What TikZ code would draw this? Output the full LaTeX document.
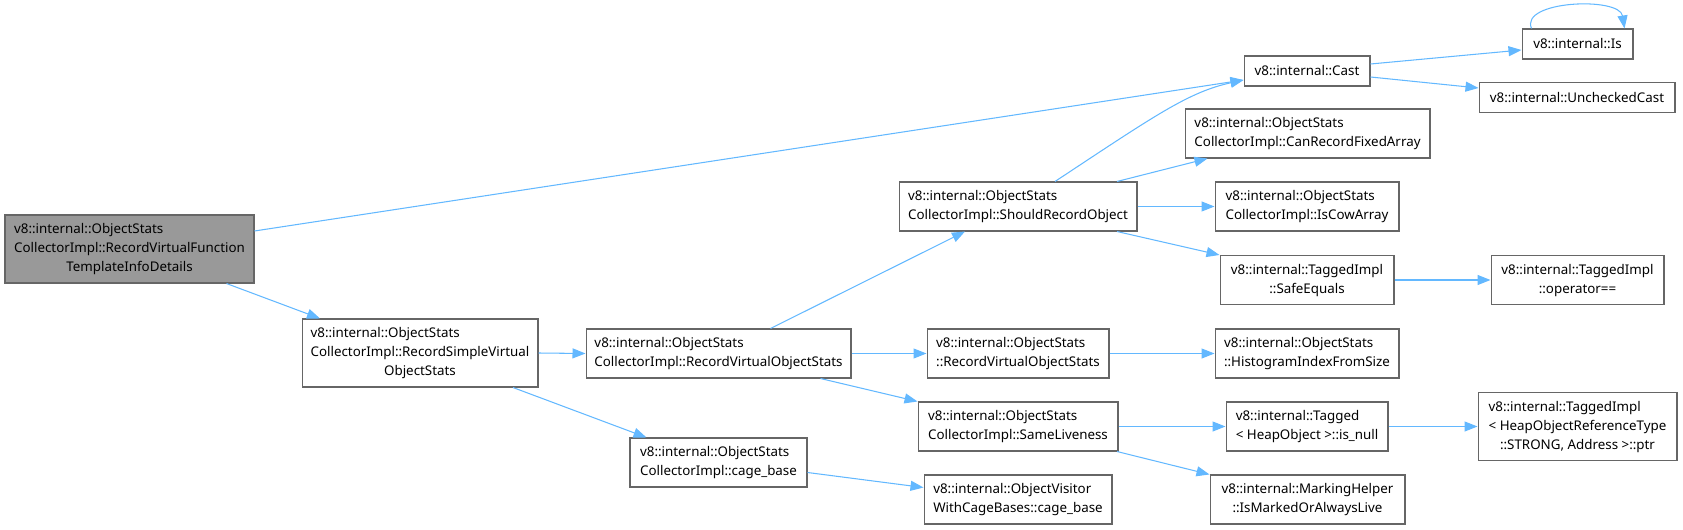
\documentclass[tikz,border=0pt]{standalone}
\usepackage{fontspec}
\setmainfont{Noto Sans}
\usepackage{xcolor}
\usepackage{tikz}
\usetikzlibrary{arrows.meta,calc}

\definecolor{edgeblue}{HTML}{63B8FF}
\definecolor{boxgray}{HTML}{666666}
\definecolor{mainfill}{HTML}{999999}

% all lines left, last line centred
\newcommand{\fnlabel}[2]{\begin{tabular}{@{}l@{}}#1\\\multicolumn{1}{@{}c@{}}{#2}\end{tabular}}

\begin{document}
\begin{tikzpicture}[
  x=0.02cm, y=-0.02cm,
  font=\fontsize{7.6}{10.8}\selectfont,
  fn/.style={draw=boxgray, line width=0.6pt, fill=white, inner sep=0pt, minimum height=0.98cm},
  onefn/.style={fn, minimum height=0.6cm},
  threefn/.style={fn, minimum height=1.36cm},
  mainfn/.style={threefn, fill=mainfill},
  call/.style={edgeblue, line width=0.6pt, -{Triangle[length=0.26cm, width=0.2cm]}}
]
\useasboundingbox (0,0) rectangle (1683,530);

\node[mainfn, minimum width=4.98cm] (main) at (129.5,249) {\fnlabel{v8::internal::ObjectStats\\CollectorImpl::RecordVirtualFunction}{TemplateInfoDetails}};
\node[threefn, minimum width=4.72cm] (rsv) at (420,353) {\fnlabel{v8::internal::ObjectStats\\CollectorImpl::RecordSimpleVirtual}{ObjectStats}};

\node[fn, minimum width=5.30cm] (rvos) at (718.5,353.5) {\fnlabel{v8::internal::ObjectStats}{CollectorImpl::RecordVirtualObjectStats}};
\node[fn, minimum width=3.54cm] (cage) at (718.5,462.5) {\fnlabel{v8::internal::ObjectStats}{CollectorImpl::cage\_base}};

\node[fn, minimum width=4.76cm] (sro) at (1018,206.5) {\fnlabel{v8::internal::ObjectStats}{CollectorImpl::ShouldRecordObject}};
\node[fn, minimum width=3.64cm] (osrvos) at (1018,353.5) {\fnlabel{v8::internal::ObjectStats}{::RecordVirtualObjectStats}};
\node[fn, minimum width=4.00cm] (same) at (1018,426.5) {\fnlabel{v8::internal::ObjectStats}{CollectorImpl::SameLiveness}};
\node[fn, minimum width=3.76cm] (visitor) at (1018,499.5) {\fnlabel{v8::internal::ObjectVisitor}{WithCageBases::cage\_base}};

\node[onefn, minimum width=2.52cm] (cast) at (1307,71) {v8::internal::Cast};
\node[fn, minimum width=4.90cm] (canfixed) at (1307.5,133.5) {\fnlabel{v8::internal::ObjectStats}{CollectorImpl::CanRecordFixedArray}};
\node[fn, minimum width=3.68cm] (iscow) at (1307,206.5) {\fnlabel{v8::internal::ObjectStats}{CollectorImpl::IsCowArray}};
\node[fn, minimum width=3.48cm] (safeeq) at (1307,280) {\fnlabel{v8::internal::TaggedImpl}{::SafeEquals}};
\node[fn, minimum width=3.68cm] (hist) at (1307,353.5) {\fnlabel{v8::internal::ObjectStats}{::HistogramIndexFromSize}};
\node[fn, minimum width=3.24cm] (isnull) at (1307,426.5) {\fnlabel{v8::internal::Tagged}{< HeapObject >::is\_null}};
\node[fn, minimum width=3.90cm] (marking) at (1307.5,499.5) {\fnlabel{v8::internal::MarkingHelper}{::IsMarkedOrAlwaysLive}};

\node[onefn, minimum width=2.22cm] (is) at (1577.5,44) {v8::internal::Is};
\node[onefn, minimum width=3.92cm] (unchecked) at (1577,97.5) {v8::internal::UncheckedCast};
\node[fn, minimum width=3.46cm] (opeq) at (1577.5,280) {\fnlabel{v8::internal::TaggedImpl}{::operator==}};
\node[threefn, minimum width=3.98cm] (ptr) at (1577.5,426.5) {\fnlabel{v8::internal::TaggedImpl\\< HeapObjectReferenceType}{::STRONG, Address >::ptr}};

\draw[call] ($(main.east)+(0,-18)$) -- ($(cast.west)+(0,9)$);
\draw[call] ($(main.south)+(97,0)$) -- ($(rsv.north)+(-100,0)$);
\draw[call] (rsv.east) -- (rvos.west);
\draw[call] ($(rsv.south)+(93,0)$) -- ($(cage.north)+(-72,0)$);
\draw[call] ($(rvos.north)+(52,0)$) -- ($(sro.south)+(-53,0)$);
\draw[call] (rvos.east) -- (osrvos.west);
\draw[call] ($(rvos.south)+(102,0)$) -- (same.north west);
\draw[call] ($(cage.east)+(0,10)$) -- ($(visitor.west)+(0,-12)$);
\draw[call] ($(sro.north)+(37,0)$) .. controls +(100,-66) and +(-55,12) .. ($(cast.west)+(0,9)$);
\draw[call] ($(sro.north)+(99,0)$) -- ($(canfixed.south)+(-100,0)$);
\draw[call] (sro.east) -- (iscow.west);
\draw[call] ($(sro.south)+(99,0)$) -- (safeeq.north west);
\draw[call] ($(cast.east)+(0,-7)$) -- ($(is.west)+(0,6)$);
\draw[call] ($(cast.east)+(0,6)$) -- ($(unchecked.west)+(0,-9.5)$);
\draw[call] ($(is.north west)+(10,0)$) .. controls +(-12,-28) and +(-5,-32) .. ($(is.north east)+(-9,0)$);
\draw[call] (safeeq.east) -- (opeq.west);
\draw[call] (osrvos.east) -- (hist.west);
\draw[call] (same.east) -- (isnull.west);
\draw[call] (isnull.east) -- (ptr.west);
\draw[call] ($(same.south)+(99,0)$) -- (marking.north west);
\end{tikzpicture}
\end{document}
